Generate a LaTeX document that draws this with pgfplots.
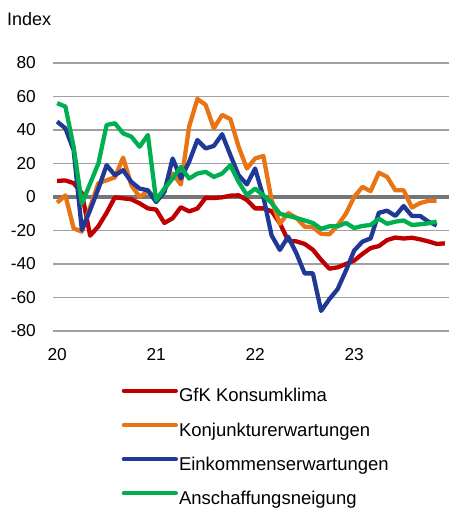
\documentclass[border=0pt]{standalone}
\usepackage{fontspec}
\setmainfont{Liberation Sans}
\usepackage{pgfplots}
\usepackage{pgfplotstable}
\pgfplotsset{compat=1.18}
\definecolor{gfkred}{RGB}{192,0,0}
\definecolor{gfkorange}{RGB}{232,116,22}
\definecolor{gfkblue}{RGB}{32,56,150}
\definecolor{gfkgreen}{RGB}{0,176,80}
\definecolor{gridgray}{RGB}{160,160,160}
\definecolor{zerogray}{RGB}{118,118,118}

% months since Jan 2020
\pgfplotstableread{
m  klima  konj  eink  ansch
0  9.6  -3.4  45  56
1  9.9  1.0  41  54
2  8.3  -18.7  28  30
3  2.3  -20.7  -19.7  -4
4  -23.1  -6.0  -7.8  8
5  -17.5  8.2  5  20
6  -9.4  10.0  19  43
7  -0.2  11.7  13  44
8  -0.8  23.5  16  38
9  -1.4  7.0  9  36
10  -3.8  0.0  5  30
11  -6.8  3.5  4  37
12  -7.5  -1.0  -3  -2
13  -15.5  4.0  3  5
14  -12.7  14.0  23  11
15  -6.1  7.5  11  18
16  -8.6  42.0  21  11
17  -6.9  58.5  34  14
18  -0.5  55.0  29  15
19  -0.6  41.0  30.5  12
20  -0.2  49.0  37.5  14
21  0.8  46.5  25  19
22  1.0  30.0  13  9
23  -1.8  17.0  7.5  1.2
24  -6.8  23.0  17  5
25  -6.8  24.5  0  1
26  -8.5  -2.0  -23  -3.6
27  -15.7  -16.0  -31.6  -10
28  -26.0  -9.5  -23.7  -11.3
29  -26.5  -12.5  -33.6  -12.5
30  -28.0  -17.7  -45.6  -14
31  -31.5  -18.0  -45.6  -15.5
32  -37.5  -22.0  -68  -19
33  -42.8  -22.3  -61  -17.5
34  -42.0  -17.0  -55  -17.5
35  -40.0  -10.0  -44  -15.5
36  -38.0  0.0  -32  -18.5
37  -34.0  6.0  -26.7  -17.3
38  -30.5  3.5  -24.7  -16.7
39  -29.3  14.5  -9.4  -13
40  -25.7  12.0  -8.2  -16
41  -24.2  4.0  -11.3  -14.7
42  -24.8  4.0  -5.4  -14
43  -24.3  -6.3  -11.3  -16.7
44  -25.3  -3.6  -11.3  -16.3
45  -26.5  -2.3  -14.7  -15.7
46  -28.0  -2.2  -17  -14.7
47  -27.7  nan  nan  nan
}\gfkdata

\begin{document}
\begin{tikzpicture}[x=1bp,y=1bp]
  \useasboundingbox (0,0) rectangle (449,509);
  \node[anchor=base west,inner sep=0pt,font=\fontsize{18bp}{21bp}\selectfont] at (7,483) {Index};
  \begin{axis}[
      at={(53bp,178bp)},anchor=south west,
      scale only axis,width=396bp,height=268bp,
      xmin=-0.5,xmax=47.5,ymin=-80,ymax=80,
      xtick={0,12,24,36},xticklabels={20,21,22,23},
      ytick={-80,-60,-40,-20,0,20,40,60,80},
      yticklabels={-80,-60,-40,-20,0,20,40,60,80},
      /pgf/number format/assume math mode=true,
      major tick length=0pt,
      axis line style={draw=none},
      ymajorgrids,major grid style={line width=1.3bp,color=gridgray},
      tick label style={font=\fontsize{17.3bp}{20bp}\selectfont,inner sep=0pt},
      yticklabel style={anchor=east,xshift=-17bp},
      xticklabel style={anchor=north,yshift=-17.3bp},
      legend cell align=left,
      legend style={at={(axis description cs:0.1730,-0.2146)},anchor=north west,
        draw=none,fill=none,inner sep=0pt,row sep=17bp,
        font=\fontsize{18.5bp}{22bp}\selectfont,
        nodes={inner sep=0pt,text height=13bp,text depth=4bp}},
      legend image code/.code={
        \draw[#1,line width=4.3bp,line cap=round] (0bp,6.5bp) -- (52bp,6.5bp);
        \path (53bp,0bp);},
      every axis plot/.append style={line width=4.3bp,line join=round},
    ]
    \addplot[zerogray,forget plot] coordinates {(-0.5,0) (47.5,0)};
    \addplot[gfkred] table[x=m,y=klima] {\gfkdata};
    \addlegendentry{GfK Konsumklima}
    \addplot[gfkorange] table[x=m,y=konj] {\gfkdata};
    \addlegendentry{Konjunkturerwartungen}
    \addplot[gfkblue] table[x=m,y=eink] {\gfkdata};
    \addlegendentry{Einkommenserwartungen}
    \addplot[gfkgreen] table[x=m,y=ansch] {\gfkdata};
    \addlegendentry{Anschaffungsneigung}
  \end{axis}
\end{tikzpicture}
\end{document}
